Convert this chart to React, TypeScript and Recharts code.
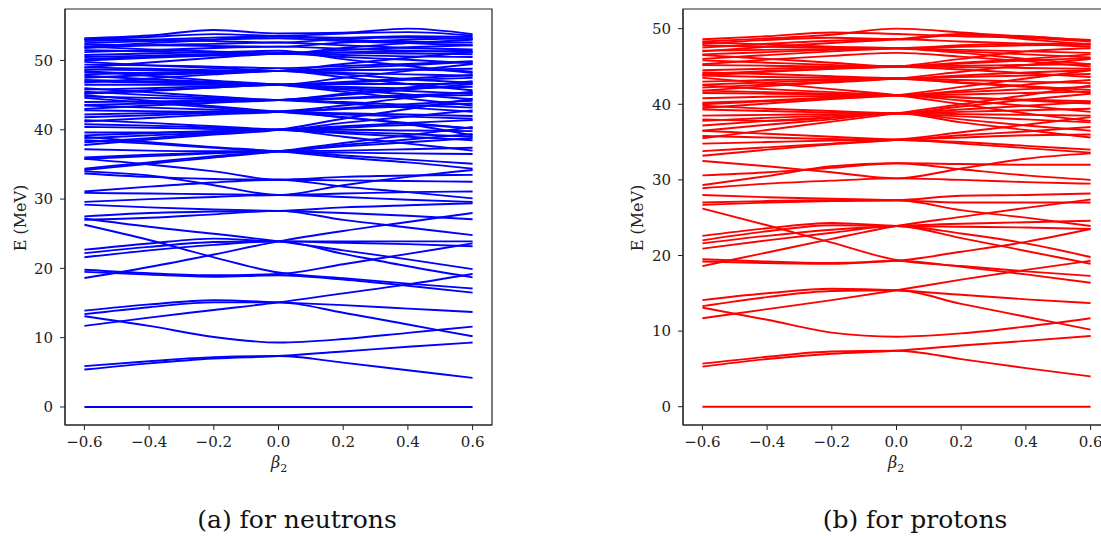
import { LineChart, Line, XAxis, YAxis, ReferenceArea } from "recharts";

// deformation grid (beta_2)
const betaValues = [-0.6, -0.4, -0.2, 0, 0.2, 0.4, 0.6];
const xTicks = [-0.6, -0.4, -0.2, 0, 0.2, 0.4, 0.6];
const yTicks = [0, 10, 20, 30, 40, 50];

// neutron single-particle levels, MeV, one row per level, read at betaValues
const neutronLevels = [
  [0, 0, 0, 0, 0, 0, 0],
  [5.4, 6.3, 7.0, 7.35, 8.0, 8.7, 9.3],
  [5.9, 6.6, 7.2, 7.35, 6.4, 5.3, 4.2],
  [13.1, 11.7, 10.1, 9.3, 9.8, 10.7, 11.6],
  [11.7, 12.9, 14.0, 15.1, 16.4, 17.7, 19.2],
  [13.9, 14.8, 15.4, 15.1, 14.7, 14.2, 13.7],
  [13.4, 14.4, 15.1, 15.1, 13.6, 11.9, 10.2],
  [19.8, 19.3, 19.0, 19.2, 20.6, 22.1, 23.6],
  [19.5, 19.1, 18.8, 19.0, 18.4, 17.5, 16.5],
  [26.3, 24.1, 21.6, 19.4, 18.6, 17.8, 17.1],
  [18.6, 20.2, 22.0, 23.9, 25.4, 26.7, 28.0],
  [22.7, 23.6, 24.3, 23.9, 23.9, 23.9, 23.9],
  [27.2, 26.0, 25.0, 23.9, 22.6, 21.3, 19.9],
  [21.6, 22.6, 23.4, 23.9, 23.7, 23.5, 23.2],
  [22.2, 23.1, 23.8, 23.9, 22.1, 20.3, 18.7],
  [27.0, 27.3, 27.8, 28.3, 27.0, 25.9, 24.8],
  [27.5, 28.0, 28.2, 28.3, 28.8, 29.1, 29.4],
  [29.2, 28.8, 28.5, 28.3, 28.0, 27.6, 27.1],
  [29.6, 30.0, 30.3, 30.6, 30.3, 29.9, 29.6],
  [31.1, 31.8, 32.4, 32.8, 31.8, 31.0, 30.1],
  [30.9, 30.8, 30.7, 30.6, 30.8, 31.0, 31.1],
  [33.7, 33.2, 32.9, 32.8, 32.7, 32.6, 32.5],
  [34.0, 33.4, 32.0, 30.6, 32.0, 33.2, 34.2],
  [35.8, 35.0, 34.0, 32.8, 33.2, 33.4, 33.5],
  [34.4, 35.3, 36.2, 36.9, 37.6, 38.2, 38.8],
  [36.0, 36.4, 36.7, 36.9, 36.3, 35.7, 35.1],
  [38.5, 38.0, 37.4, 36.9, 36.7, 36.6, 36.5],
  [34.2, 35.1, 36.0, 36.9, 38.1, 39.2, 40.4],
  [35.8, 36.2, 36.6, 36.9, 37.0, 37.2, 37.4],
  [37.2, 37.0, 36.9, 36.9, 37.8, 38.6, 39.4],
  [39.0, 38.2, 37.5, 36.9, 36.0, 35.3, 34.4],
  [38.8, 39.2, 39.6, 40.0, 39.0, 38.0, 37.0],
  [39.2, 39.5, 39.8, 40.0, 40.5, 41.0, 41.4],
  [41.4, 41.0, 40.5, 40.0, 39.5, 39.0, 38.5],
  [40.4, 40.3, 40.1, 40.0, 40.3, 40.7, 40.2],
  [37.8, 38.6, 39.3, 40.0, 41.6, 43.0, 44.5],
  [38.2, 38.8, 39.5, 40.0, 40.0, 39.9, 39.8],
  [40.8, 40.6, 40.3, 40.0, 41.0, 41.9, 42.8],
  [39.6, 39.6, 39.8, 40.0, 39.7, 39.4, 39.0],
  [41.8, 42.1, 42.4, 42.6, 43.0, 43.4, 43.8],
  [42.8, 42.7, 42.6, 42.6, 41.8, 41.0, 40.2],
  [43.5, 43.2, 42.9, 42.6, 42.2, 41.9, 41.6],
  [41.2, 41.7, 42.2, 42.6, 43.5, 44.6, 45.5],
  [45.0, 44.2, 43.4, 42.6, 41.8, 40.8, 39.2],
  [42.2, 42.4, 42.5, 42.6, 42.4, 42.2, 42.0],
  [44.6, 43.9, 43.2, 42.6, 43.1, 43.7, 44.2],
  [44.0, 44.1, 44.2, 44.3, 44.6, 45.0, 45.3],
  [45.5, 45.0, 44.6, 44.3, 43.8, 43.2, 42.6],
  [43.0, 43.5, 43.9, 44.3, 45.0, 45.8, 46.6],
  [46.0, 45.4, 44.8, 44.3, 44.5, 44.8, 45.0],
  [43.6, 43.8, 44.1, 44.3, 44.0, 43.6, 43.2],
  [44.8, 44.6, 44.4, 44.3, 45.2, 46.1, 47.0],
  [45.8, 46.0, 46.3, 46.5, 46.8, 47.2, 47.5],
  [47.2, 47.0, 46.8, 46.5, 46.0, 45.6, 45.2],
  [47.8, 47.3, 46.9, 46.5, 46.9, 47.4, 47.9],
  [46.5, 46.5, 46.5, 46.5, 47.5, 48.5, 49.5],
  [48.5, 47.8, 47.1, 46.5, 45.5, 44.5, 43.5],
  [45.2, 45.7, 46.1, 46.5, 46.2, 46.0, 46.2],
  [45.3, 45.6, 46.1, 46.5, 46.6, 46.6, 46.7],
  [47.0, 46.8, 46.6, 46.5, 45.8, 45.1, 44.4],
  [48.0, 48.2, 48.4, 48.5, 48.2, 48.0, 47.8],
  [49.0, 48.8, 48.6, 48.5, 48.9, 49.3, 49.8],
  [47.5, 47.9, 48.2, 48.5, 49.5, 50.4, 51.2],
  [49.8, 49.3, 48.9, 48.5, 48.0, 47.3, 46.8],
  [48.7, 48.6, 48.5, 48.5, 48.6, 48.7, 48.4],
  [46.8, 47.4, 48.0, 48.5, 48.6, 48.7, 48.8],
  [48.3, 48.2, 48.3, 48.5, 47.6, 46.6, 45.7],
  [49.4, 49.3, 49.1, 48.9, 49.2, 49.5, 49.9],
  [50.0, 50.4, 50.7, 51.0, 50.5, 50.1, 49.6],
  [50.5, 50.7, 50.9, 51.0, 51.5, 51.9, 52.2],
  [51.5, 51.3, 51.1, 51.0, 50.8, 50.6, 50.5],
  [52.0, 51.6, 51.3, 51.0, 51.8, 52.5, 53.0],
  [49.0, 49.7, 50.4, 51.0, 51.2, 51.3, 51.4],
  [50.8, 51.0, 51.2, 51.4, 50.2, 49.2, 48.2],
  [50.2, 50.5, 50.8, 51.0, 51.1, 51.0, 50.9],
  [51.2, 51.5, 51.8, 52.0, 51.7, 51.4, 51.2],
  [52.3, 52.2, 52.1, 52.0, 52.6, 53.0, 53.2],
  [52.5, 52.8, 53.0, 53.2, 52.8, 52.5, 52.2],
  [53.0, 53.4, 53.8, 53.5, 53.3, 53.5, 53.4],
  [53.2, 53.6, 54.4, 53.9, 54.0, 54.6, 53.8],
  [52.8, 53.0, 53.3, 53.5, 53.9, 54.1, 53.6],
  [52.0, 52.5, 53.0, 53.5, 53.0, 52.7, 52.6],
  [51.8, 52.2, 52.4, 52.6, 52.2, 51.8, 51.6],
  [53.1, 53.0, 52.8, 52.6, 53.1, 53.3, 53.1],
];

// proton single-particle levels, MeV
const protonLevels = [
  [0, 0, 0, 0, 0, 0, 0],
  [5.3, 6.3, 7.0, 7.4, 8.1, 8.7, 9.35],
  [5.7, 6.6, 7.3, 7.4, 6.3, 5.1, 4.0],
  [13.1, 11.5, 9.8, 9.26, 9.7, 10.6, 11.7],
  [11.7, 12.9, 14.1, 15.4, 16.8, 18.1, 19.3],
  [14.1, 15.0, 15.6, 15.4, 14.8, 14.2, 13.7],
  [13.3, 14.5, 15.3, 15.4, 13.6, 11.9, 10.2],
  [19.5, 19.2, 19.0, 19.3, 20.5, 21.8, 23.5],
  [19.2, 19.0, 18.9, 19.3, 18.5, 17.5, 16.4],
  [26.2, 24.0, 21.7, 19.4, 18.6, 17.9, 17.3],
  [18.6, 20.4, 22.2, 23.9, 25.1, 26.3, 27.4],
  [22.6, 23.6, 24.3, 23.9, 23.8, 23.7, 23.5],
  [22.0, 23.2, 24.0, 23.9, 22.3, 20.6, 18.9],
  [21.6, 22.6, 23.4, 23.9, 24.2, 24.4, 24.6],
  [20.9, 22.0, 23.0, 23.9, 22.9, 21.6, 19.8],
  [27.0, 27.2, 27.3, 27.3, 26.0, 25.0, 23.9],
  [26.7, 27.0, 27.2, 27.3, 27.9, 28.0, 28.2],
  [28.0, 27.7, 27.5, 27.3, 27.0, 27.0, 27.0],
  [28.9, 29.5, 29.9, 30.2, 30.0, 29.7, 29.5],
  [29.3, 30.5, 31.8, 32.2, 31.4, 30.6, 30.0],
  [30.6, 31.0, 31.6, 32.2, 32.1, 32.0, 32.0],
  [32.5, 31.8, 31.0, 30.2, 31.5, 32.8, 33.5],
  [33.8, 34.3, 34.8, 35.3, 35.6, 35.9, 36.0],
  [34.8, 35.0, 35.2, 35.3, 34.8, 34.2, 33.6],
  [36.5, 36.1, 35.7, 35.3, 35.0, 34.5, 34.0],
  [33.2, 34.0, 34.7, 35.3, 36.3, 37.3, 38.3],
  [35.8, 35.6, 35.4, 35.3, 35.9, 36.4, 37.0],
  [36.5, 37.3, 38.0, 38.8, 38.0, 37.2, 36.5],
  [37.8, 38.2, 38.5, 38.8, 39.3, 39.8, 40.3],
  [39.8, 39.4, 39.1, 38.8, 38.4, 38.0, 37.6],
  [38.5, 38.6, 38.7, 38.8, 39.0, 39.2, 39.4],
  [35.5, 36.6, 37.7, 38.8, 40.0, 41.2, 42.5],
  [37.2, 37.8, 38.3, 38.8, 38.7, 38.6, 38.5],
  [39.3, 39.1, 38.9, 38.8, 39.7, 40.6, 41.4],
  [38.0, 37.8, 38.2, 38.8, 37.6, 36.6, 35.6],
  [40.2, 40.5, 40.9, 41.2, 40.5, 39.8, 39.0],
  [40.8, 41.0, 41.1, 41.2, 41.6, 42.0, 42.3],
  [42.5, 42.0, 41.6, 41.2, 40.9, 40.5, 40.1],
  [39.5, 40.1, 40.7, 41.2, 42.3, 43.4, 44.5],
  [43.5, 42.8, 42.0, 41.2, 40.0, 38.8, 37.8],
  [41.5, 41.4, 41.3, 41.2, 41.3, 41.5, 41.7],
  [40.0, 40.4, 40.8, 41.2, 40.9, 40.6, 40.4],
  [41.8, 41.6, 41.4, 41.2, 41.8, 42.6, 43.2],
  [42.6, 42.9, 43.2, 43.4, 43.8, 44.2, 44.5],
  [44.2, 44.0, 43.7, 43.4, 42.9, 42.4, 41.9],
  [41.8, 42.4, 42.9, 43.4, 44.3, 45.2, 46.0],
  [43.0, 43.2, 43.3, 43.4, 43.2, 43.0, 42.8],
  [43.8, 43.6, 43.5, 43.4, 43.6, 43.8, 44.0],
  [42.2, 42.6, 43.0, 43.4, 42.8, 42.3, 41.5],
  [44.5, 44.7, 44.9, 45.0, 45.4, 45.8, 46.1],
  [45.8, 45.5, 45.2, 45.0, 44.6, 44.1, 43.6],
  [46.5, 46.0, 45.5, 45.0, 45.5, 46.0, 46.6],
  [43.8, 44.3, 44.7, 45.0, 46.0, 47.0, 47.4],
  [45.2, 45.1, 45.0, 45.0, 44.9, 44.8, 44.7],
  [44.0, 44.4, 44.7, 45.0, 45.1, 45.2, 45.3],
  [46.6, 46.9, 47.2, 47.4, 47.0, 46.6, 46.2],
  [47.8, 47.6, 47.5, 47.4, 47.8, 48.0, 48.0],
  [48.2, 47.9, 47.6, 47.4, 46.8, 46.0, 45.3],
  [46.0, 46.5, 47.0, 47.4, 47.6, 47.8, 47.9],
  [47.1, 47.2, 47.3, 47.4, 47.2, 47.0, 46.8],
  [45.3, 45.9, 46.4, 46.8, 46.3, 45.7, 45.0],
  [47.5, 48.0, 48.4, 48.6, 48.3, 48.0, 47.6],
  [48.3, 48.7, 49.2, 50.0, 49.5, 48.9, 48.5],
  [48.6, 49.0, 49.5, 49.3, 49.0, 48.8, 48.3],
  [48.0, 48.5, 48.8, 48.6, 49.2, 49.0, 48.4],
  [47.0, 47.6, 48.1, 48.6, 49.3, 48.6, 47.9],
];

const toRows = (levels: number[][]) =>
  betaValues.map((b, i) => {
    const row: Record<string, number> = { beta: b };
    levels.forEach((lv, j) => {
      row["l" + j] = lv[i];
    });
    return row;
  });

const fmtX = (v: number) =>
  v < 0 ? "\u2212" + Math.abs(v).toFixed(1) : v.toFixed(1);

const serif = "DejaVu Serif";
const tickStyle = { fontFamily: serif, fontSize: 15, fill: "#222" };

function Panel({ levels, color, yDomain, left }: any) {
  const data = toRows(levels);
  return (
    <div style={{ position: "absolute", left, top: 0 }}>
      <LineChart
        width={500}
        height={470}
        data={data}
        margin={{ top: 9, right: 8, left: 0, bottom: 0 }}
      >
        <XAxis
          dataKey="beta"
          type="number"
          domain={[-0.66, 0.66]}
          ticks={xTicks}
          tickFormatter={fmtX}
          tick={tickStyle}
          tickSize={5}
          tickMargin={6}
          height={45}
          stroke="#222"
          allowDataOverflow
        />
        <YAxis
          type="number"
          domain={yDomain}
          ticks={yTicks}
          tick={tickStyle}
          tickSize={5}
          tickMargin={7}
          width={65}
          stroke="#222"
          allowDataOverflow
        />
        <ReferenceArea
          x1={-0.66}
          x2={0.66}
          y1={yDomain[0]}
          y2={yDomain[1]}
          fill="none"
          stroke="#222"
          strokeWidth={1.2}
        />
        {levels.map((_: number[], j: number) => (
          <Line
            key={j}
            dataKey={"l" + j}
            type="monotone"
            stroke={color}
            strokeWidth={1.9}
            dot={false}
            isAnimationActive={false}
          />
        ))}
      </LineChart>
    </div>
  );
}

const label = { position: "absolute" as const, fontSize: 16, whiteSpace: "nowrap" as const, color: "#222" };

export default function App() {
  return (
    <div
      style={{
        position: "absolute",
        left: 0,
        top: 0,
        width: 1101,
        height: 536,
        overflow: "hidden",
        background: "#fff",
        fontFamily: serif,
      }}
    >
      <Panel levels={neutronLevels} color="#0000ff" yDomain={[-2.6, 57.43]} left={0} />
      <Panel levels={protonLevels} color="#ff0000" yDomain={[-2.42, 52.6]} left={618} />

      {/* axis titles */}
      <div style={{ ...label, left: 20, top: 218, transform: "translate(-50%,-50%) rotate(-90deg)" }}>
        E (MeV)
      </div>
      <div style={{ ...label, left: 637, top: 218, transform: "translate(-50%,-50%) rotate(-90deg)" }}>
        E (MeV)
      </div>
      <div style={{ ...label, left: 279, top: 464, transform: "translate(-50%,-50%)" }}>
        <i>β</i><sub style={{ fontSize: 11 }}>2</sub>
      </div>
      <div style={{ ...label, left: 896, top: 464, transform: "translate(-50%,-50%)" }}>
        <i>β</i><sub style={{ fontSize: 11 }}>2</sub>
      </div>

      {/* sub-captions */}
      <div style={{ ...label, left: 297, top: 519, transform: "translate(-50%,-50%)", fontSize: 25, color: "#111" }}>
        (a) for neutrons
      </div>
      <div style={{ ...label, left: 915, top: 519, transform: "translate(-50%,-50%)", fontSize: 25, color: "#111" }}>
        (b) for protons
      </div>
    </div>
  );
}
